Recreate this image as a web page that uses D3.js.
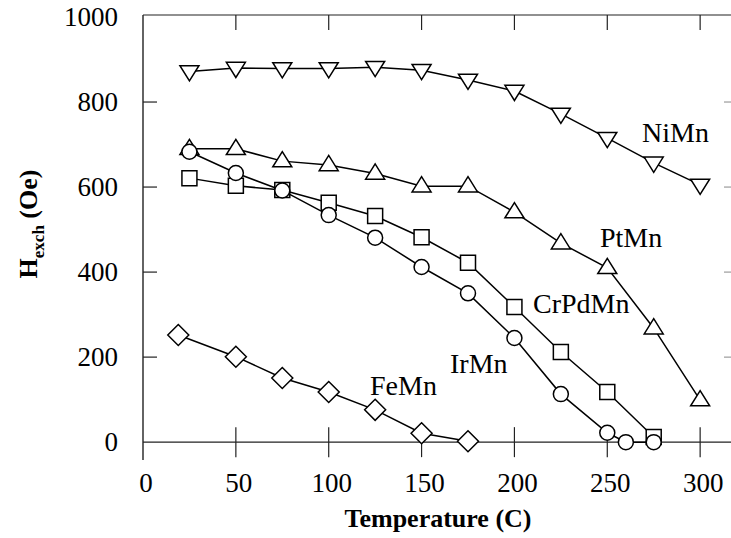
<!DOCTYPE html>
<html>
<head>
<meta charset="utf-8">
<script src="https://cdn.jsdelivr.net/npm/d3@7"></script>
<style>
  html, body { margin: 0; padding: 0; background: #fff; }
  svg { display: block; }
</style>
</head>
<body>
<svg id="chart" width="731" height="538"></svg>
<script>
// ---- data ----
const xTicks = [0, 50, 100, 150, 200, 250, 300];
const yTicks = [0, 200, 400, 600, 800, 1000];

const niMnT = [25, 50, 75, 100, 125, 150, 175, 200, 225, 250, 275, 300];
const niMnH = [872, 880, 879, 879, 882, 875, 852, 826, 772, 715, 657, 605];

const ptMnT = [25, 50, 75, 100, 125, 150, 175, 200, 225, 250, 275, 300];
const ptMnH = [690, 690, 661, 652, 632, 602, 602, 541, 468, 410, 268, 99];

const crPdMnT = [25, 50, 75, 100, 125, 150, 175, 200, 225, 250, 275];
const crPdMnH = [621, 603, 593, 563, 532, 482, 422, 318, 212, 118, 12];

const irMnT = [25, 50, 75, 100, 125, 150, 175, 200, 225, 250, 260, 275];
const irMnH = [683, 633, 592, 534, 481, 412, 350, 245, 113, 22, 0, 0];

const feMnT = [19, 50, 75, 100, 125, 150, 175];
const feMnH = [252, 201, 151, 118, 76, 21, 2];

const seriesNames = ["NiMn", "PtMn", "CrPdMn", "IrMn", "FeMn"];

// ---- layout ----
const FONT = "Liberation Serif";
const svg = d3.select("#chart");
const x = d3.scaleLinear().domain([0, 315]).range([143, 728]);
const y = d3.scaleLinear().domain([-42, 1000]).range([460, 17]);

const series = [
  { name: seriesNames[0], t: niMnT, h: niMnH, sym: "tdown", lx: 642, ly: 142 },
  { name: seriesNames[1], t: ptMnT, h: ptMnH, sym: "tup", lx: 600, ly: 247 },
  { name: seriesNames[2], t: crPdMnT, h: crPdMnH, sym: "square", lx: 533, ly: 313 },
  { name: seriesNames[3], t: irMnT, h: irMnH, sym: "circle", lx: 450, ly: 373 },
  { name: seriesNames[4], t: feMnT, h: feMnH, sym: "diamond", lx: 370, ly: 395 }
];

// ---- frame ----
const g = svg.append("g");
const axisColor = "#222";
g.append("line").attr("x1", x(0)).attr("x2", x(0)).attr("y1", y(1000) - 2).attr("y2", y(-42))
  .attr("stroke", axisColor).attr("stroke-width", 1.4);
g.append("line").attr("x1", x(0)).attr("x2", 731).attr("y1", y(1000) - 2).attr("y2", y(1000) - 2)
  .attr("stroke", axisColor).attr("stroke-width", 1.2);
g.append("line").attr("x1", x(0)).attr("x2", 731).attr("y1", y(0)).attr("y2", y(0))
  .attr("stroke", axisColor).attr("stroke-width", 1.2);

xTicks.filter(d => d > 0).forEach(d => {
  g.append("line").attr("x1", x(d)).attr("x2", x(d)).attr("y1", y(0) - 15).attr("y2", y(0) + 15)
    .attr("stroke", axisColor).attr("stroke-width", 1.2);
  g.append("line").attr("x1", x(d)).attr("x2", x(d)).attr("y1", y(1000) - 2).attr("y2", y(1000) + 13)
    .attr("stroke", axisColor).attr("stroke-width", 1.2);
});
yTicks.filter(d => d > 0 && d < 1000).forEach(d => {
  g.append("line").attr("x1", x(0)).attr("x2", x(0) + 14).attr("y1", y(d)).attr("y2", y(d))
    .attr("stroke", axisColor).attr("stroke-width", 1.2);
  g.append("line").attr("x1", 724).attr("x2", 731).attr("y1", y(d)).attr("y2", y(d))
    .attr("stroke", "#888").attr("stroke-width", 1);
});

// tick labels
g.selectAll(".xt").data(xTicks).enter().append("text")
  .attr("x", d => x(d) + 3).attr("y", 492)
  .attr("text-anchor", "middle").attr("font-size", 27)
  .text(d => d);
g.selectAll(".yt").data(yTicks).enter().append("text")
  .attr("x", 118).attr("y", d => y(d) + 9)
  .attr("text-anchor", "end").attr("font-size", 27)
  .text(d => d);

// axis titles
g.append("text").attr("x", 438).attr("y", 527).attr("text-anchor", "middle")
  .attr("font-size", 26).attr("font-weight", "bold").text("Temperature (C)");
const yt = g.append("text").attr("transform", "translate(37,224) rotate(-90)")
  .attr("text-anchor", "middle").attr("font-size", 26).attr("font-weight", "bold");
yt.append("tspan").text("H");
yt.append("tspan").attr("font-size", 17).attr("dy", 7).text("exch");
yt.append("tspan").attr("dy", -7).text(" (Oe)");

// ---- series ----
const line = d3.line().x(d => x(d[0])).y(d => y(d[1]));
const symbols = {
  tdown: d3.symbol().type({ draw(ctx) { const r = 9.5; ctx.moveTo(-r, -r * 0.6); ctx.lineTo(r, -r * 0.6); ctx.lineTo(0, r * 1.0); ctx.closePath(); } })(),
  tup: d3.symbol().type({ draw(ctx) { const r = 9.5; ctx.moveTo(-r, r * 0.6); ctx.lineTo(r, r * 0.6); ctx.lineTo(0, -r * 1.0); ctx.closePath(); } })(),
  square: d3.symbol().type({ draw(ctx) { const r = 7.5; ctx.rect(-r, -r, 2 * r, 2 * r); } })(),
  circle: d3.symbol().type({ draw(ctx) { const r = 7.5; ctx.moveTo(r, 0); ctx.arc(0, 0, r, 0, 2 * Math.PI); } })(),
  diamond: d3.symbol().type({ draw(ctx) { const r = 10.5; ctx.moveTo(0, -r); ctx.lineTo(r, 0); ctx.lineTo(0, r); ctx.lineTo(-r, 0); ctx.closePath(); } })()
};

series.forEach(s => {
  const pts = s.t.map((t, i) => [t, s.h[i]]);
  g.append("path").datum(pts).attr("d", line)
    .attr("fill", "none").attr("stroke", "#000").attr("stroke-width", 1.5);
});
series.forEach(s => {
  const pts = s.t.map((t, i) => [t, s.h[i]]);
  g.selectAll(null).data(pts).enter().append("path")
    .attr("d", symbols[s.sym])
    .attr("transform", d => `translate(${x(d[0])},${y(d[1])})`)
    .attr("fill", "#fff").attr("stroke", "#000").attr("stroke-width", 1.5);
  g.append("text").attr("x", s.lx).attr("y", s.ly).attr("font-size", 28).text(s.name);
});

// apply the serif face to every text element directly
svg.selectAll("text").attr("font-family", FONT).style("font-family", "'Liberation Serif', serif");
</script>
</body>
</html>
